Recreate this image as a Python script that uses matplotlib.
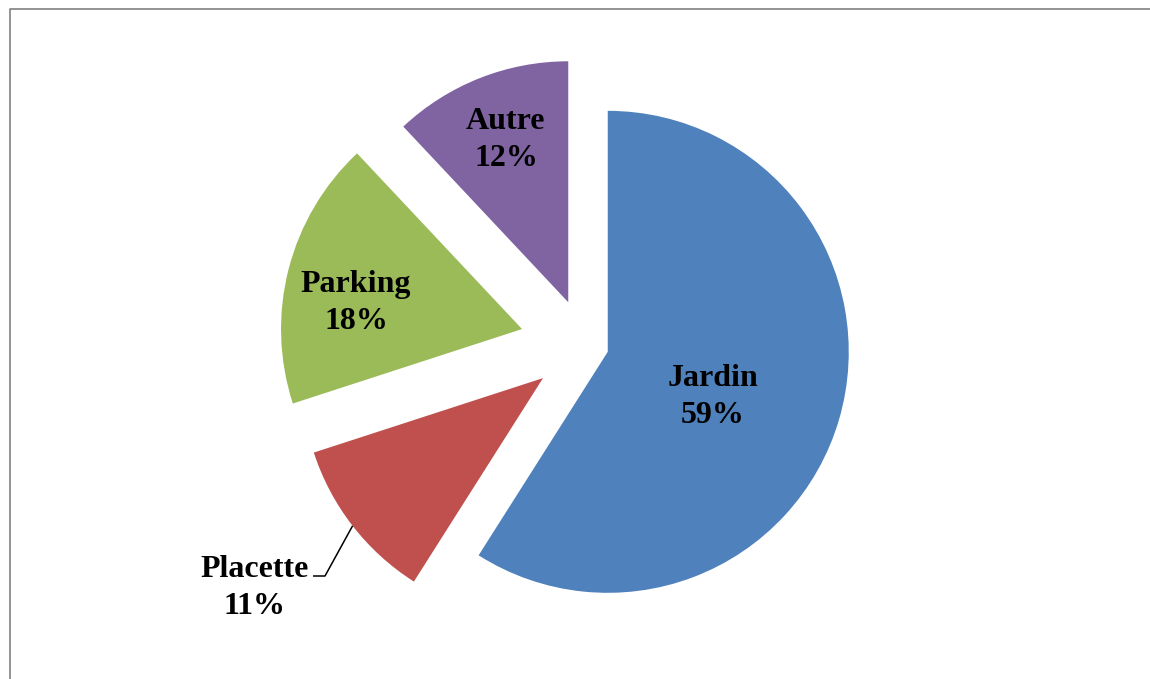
import numpy as np
import matplotlib
matplotlib.use("Agg")
import matplotlib.pyplot as plt
from matplotlib.lines import Line2D

# data
labels = ["Jardin", "Placette", "Parking", "Autre"]
values = [59, 11, 18, 12]
colors = ["#4F81BD", "#C0504D", "#9BBB59", "#8064A2"]
explode = [0.097, 0.222, 0.271, 0.192]  # fraction of radius

W, H = 1150, 679
fig = plt.figure(figsize=(W / 100, H / 100), dpi=100)
ax = fig.add_axes([0, 0, 1, 1])

center = (585.3, H - 345.3)
radius = 241

# pie's explode is an absolute offset, so scale by the radius
wedges, _ = ax.pie(values, colors=colors, explode=[e * radius for e in explode],
                   startangle=90, counterclock=False, center=center, radius=radius,
                   wedgeprops=dict(linewidth=0))
ax.set_xlim(0, W)
ax.set_ylim(0, H)
ax.set_aspect("equal")
ax.axis("off")

font = dict(family="Liberation Serif", fontweight="bold", fontsize=23,
            ha="center", va="center", linespacing=1.35)

# label positions (pixels from top-left)
label_pos = {"Jardin": (713, 397), "Placette": (255, 588),
             "Parking": (356, 303), "Autre": (506, 140)}
for lab, val in zip(labels, values):
    x, y = label_pos[lab]
    ax.text(x, H - y, f"{lab}\n{val}%", **font)

# leader line for Placette, from the middle of its arc
w = wedges[1]
mid = np.deg2rad((w.theta1 + w.theta2) / 2)
ax_x = w.center[0] + w.r * np.cos(mid)
ax_y = w.center[1] + w.r * np.sin(mid)
ax.plot([ax_x, 325, 313], [ax_y, H - 576, H - 576], color="black", lw=1.1,
        solid_capstyle="butt")

# chart area border (left and top edges visible)
fig.add_artist(Line2D([9.5 / W, 9.5 / W, 1], [0, 1 - 8.5 / H, 1 - 8.5 / H],
                      transform=fig.transFigure, color="#8a8a8a", lw=1.3))

fig.savefig("out.png", dpi=100, facecolor="white")
